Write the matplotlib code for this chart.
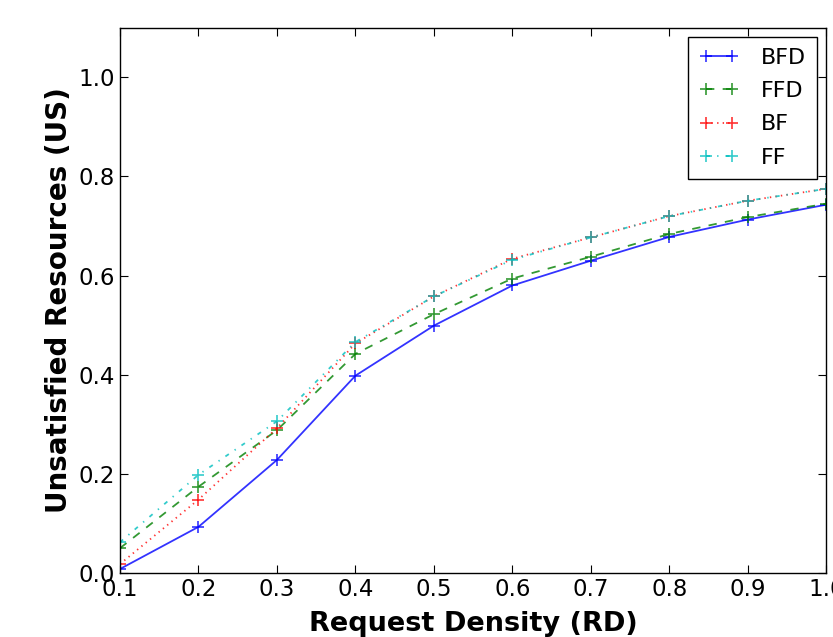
import numpy as np
import matplotlib.pyplot as plt

# estilo classico dos tracos
plt.rcParams['lines.scale_dashes'] = False
plt.rcParams['lines.dashed_pattern'] = [6, 6]
plt.rcParams['lines.dashdot_pattern'] = [3, 5, 1, 5]
plt.rcParams['lines.dotted_pattern'] = [1, 3]

# dados
densidade = [0.1, 0.2, 0.3, 0.4, 0.5, 0.6, 0.7, 0.8, 0.9, 1.0]
bfd = [0.008, 0.093, 0.228, 0.398, 0.499, 0.580, 0.630, 0.678, 0.713, 0.743]
ffd = [0.050, 0.174, 0.288, 0.442, 0.522, 0.594, 0.638, 0.684, 0.718, 0.745]
bf = [0.018, 0.148, 0.292, 0.463, 0.558, 0.634, 0.677, 0.720, 0.751, 0.775]
ff = [0.062, 0.198, 0.306, 0.466, 0.558, 0.632, 0.677, 0.720, 0.751, 0.775]

fig = plt.figure(figsize=(8.33, 6.37), dpi=100)
ax = fig.add_axes([0.144, 0.1005, 0.848, 0.856])

ax.plot(densidade, bfd, 'b-', marker='+', ms=8, mew=1.2, lw=1.3, alpha=0.8, label='BFD')
ax.plot(densidade, ffd, 'g--', marker='+', ms=8, mew=1.2, lw=1.3, alpha=0.8, label='FFD')
ax.plot(densidade, bf, 'r:', marker='+', ms=8, mew=1.2, lw=1.3, alpha=0.8, label='BF')
ax.plot(densidade, ff, 'c-.', marker='+', ms=8, mew=1.2, lw=1.3, alpha=0.8, label='FF')

ax.set_xlim(0.1, 1.0)
ax.set_ylim(0.0, 1.1)
ax.set_xticks(np.arange(0.1, 1.01, 0.1))
ax.set_yticks([0.0, 0.2, 0.4, 0.6, 0.8, 1.0])
ax.tick_params(direction='in', top=True, right=True, labelsize=16.5, length=6)
ax.set_xlabel('Request Density (RD)', fontsize=19.5, fontweight='bold', labelpad=7)
ax.set_ylabel('Unsatisfied Resources (US)', fontsize=20, fontweight='bold')

leg = ax.legend(loc='upper right', fontsize=16, fancybox=False, framealpha=1,
                edgecolor='black', handlelength=1.8, numpoints=2,
                labelspacing=0.6, handletextpad=1.0, borderaxespad=0.4,
                borderpad=0.5)
leg.get_frame().set_linewidth(1.0)

for s in ax.spines.values():
    s.set_linewidth(1.0)

fig.savefig('out.png', dpi=100)
